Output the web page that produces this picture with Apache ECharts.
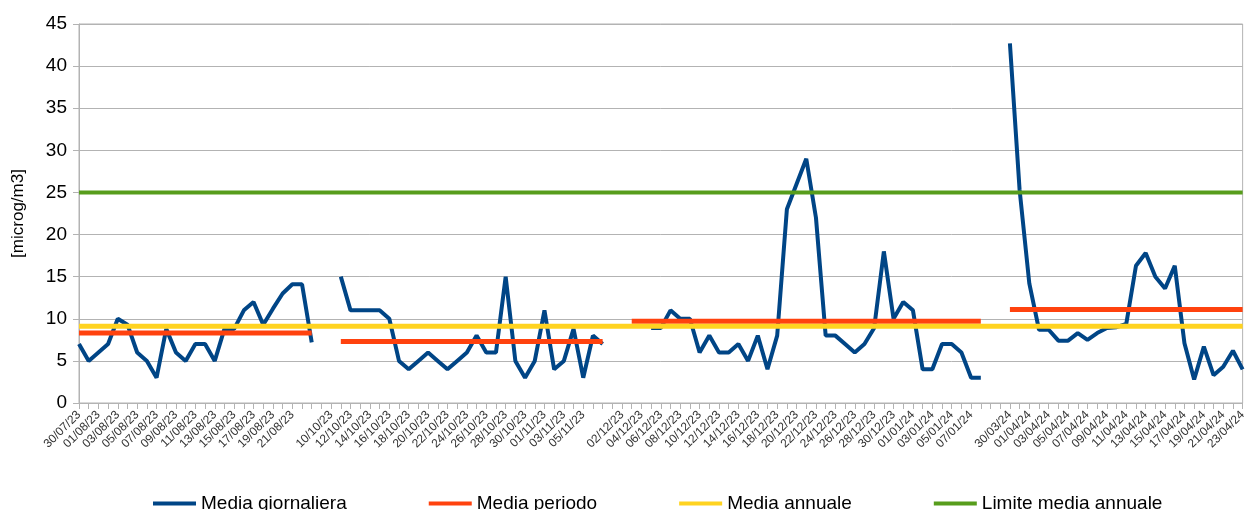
<!DOCTYPE html>
<html>
<head>
<meta charset="utf-8">
<script src="https://cdn.jsdelivr.net/npm/echarts@6/dist/echarts.min.js"></script>
<style>
  html, body { margin: 0; padding: 0; background: #fff; }
  #chart { width: 1249px; height: 510px; }
</style>
</head>
<body>
<div id="chart"></div>
<script>
// date labels per campaign (a blank entry = row without date)
const dates1 = ['30/07/23','31/07/23','01/08/23','02/08/23','03/08/23','04/08/23','05/08/23','06/08/23',
  '07/08/23','08/08/23','09/08/23','10/08/23','11/08/23','12/08/23','13/08/23','14/08/23','15/08/23',
  '16/08/23','17/08/23','18/08/23','19/08/23','20/08/23','21/08/23','22/08/23',''];
const dates2 = ['10/10/23','11/10/23','12/10/23','13/10/23','14/10/23','15/10/23','16/10/23','17/10/23',
  '18/10/23','19/10/23','20/10/23','21/10/23','22/10/23','23/10/23','24/10/23','25/10/23','26/10/23',
  '27/10/23','28/10/23','29/10/23','30/10/23','31/10/23','01/11/23','02/11/23','03/11/23','04/11/23',
  '05/11/23','06/11/23',''];
const dates3 = ['02/12/23','03/12/23','04/12/23','05/12/23','06/12/23','07/12/23','08/12/23','09/12/23',
  '10/12/23','11/12/23','12/12/23','13/12/23','14/12/23','15/12/23','16/12/23','17/12/23','18/12/23',
  '19/12/23','20/12/23','21/12/23','22/12/23','23/12/23','24/12/23','25/12/23','26/12/23','27/12/23',
  '28/12/23','29/12/23','30/12/23','31/12/23','01/01/24','02/01/24','03/01/24','04/01/24','05/01/24',
  '06/01/24','07/01/24','08/01/24'];
const dates4 = ['30/03/24','31/03/24','01/04/24','02/04/24','03/04/24','04/04/24','05/04/24','06/04/24',
  '07/04/24','08/04/24','09/04/24','10/04/24','11/04/24','12/04/24','13/04/24','14/04/24','15/04/24',
  '16/04/24','17/04/24','18/04/24','19/04/24','20/04/24','21/04/24','22/04/24','23/04/24'];

// daily values (microg/m3)
const daily1 = [7, 5, 6, 7, 10, 9.3, 6, 5, 3, 8.8, 6, 5, 7, 7, 5, 8.8, 8.8, 11, 12, 9.3, 11.2, 13, 14.1, 14.1, 7.2];
const daily2 = [null, 15, 11, 11, 11, 11, 10, 5, 4, 5, 6, 5, 4, 5, 6, 8, 6, 6, 15, 5, 3, 5, 11, 4, 5, 8.8, 3, 8, 7];
const daily3 = [null, null, null, 8.9, 8.9, 11, 10, 10, 6, 8, 6, 6, 7, 5, 8, 4, 8, 23, 26, 29, 22, 8, 8, 7, 6, 7,
  8.9, 18, 10, 12, 11, 4, 4, 7, 7, 6, 3, 3];
const daily4 = [42.7, 25.3, 14.2, 8.7, 8.7, 7.4, 7.4, 8.3, 7.5, 8.3, 8.9, 9.0, 9.4, 16.3, 17.8, 15.0, 13.6, 16.3,
  7.1, 2.8, 6.7, 3.3, 4.3, 6.2, 4.0];

// period means and rows they cover
const periodMeans = [8.3, 7.3, 9.7, 11.1];
const annualMean = 9.1;
const annualLimit = 25;

const flat = (v, n) => new Array(n).fill(v);

const categories = [...dates1, '', ...dates2, '', ...dates3, '', '', ...dates4];
const dailyData = [...daily1, null, ...daily2, null, ...daily3, null, null, ...daily4];
const periodData = [
  ...flat(periodMeans[0], 25), null,
  null, ...flat(periodMeans[1], 28), null,
  null, ...flat(periodMeans[2], 37), null, null,
  ...flat(periodMeans[3], 25)
];

const FONT = 'Liberation Sans, Arial, sans-serif';
const chart = echarts.init(document.getElementById('chart'));

chart.setOption({
  animation: false,
  textStyle: { fontFamily: FONT },
  grid: {
    left: 79, right: 6, top: 24, bottom: 107,
    show: true, borderColor: '#b3b3b3', borderWidth: 1
  },
  legend: {
    left: 148, top: 489,
    icon: 'rect', itemWidth: 43, itemHeight: 4, itemGap: 82,
    textStyle: { fontSize: 19, color: '#000', fontFamily: FONT },
    data: ['Media giornaliera', 'Media periodo', 'Media annuale', 'Limite media annuale']
  },
  xAxis: {
    type: 'category',
    data: categories,
    boundaryGap: false,
    axisLine: { lineStyle: { color: '#b3b3b3' } },
    axisTick: { interval: 0, length: 6, lineStyle: { color: '#b3b3b3' } },
    axisLabel: { interval: 1, rotate: 45, fontSize: 12, color: '#333', margin: 10, fontFamily: FONT },
    splitLine: { show: false }
  },
  yAxis: {
    type: 'value',
    min: 0, max: 45, interval: 5,
    name: '[microg/m3]',
    nameLocation: 'middle',
    nameGap: 52,
    nameTextStyle: { fontSize: 17, color: '#000', fontFamily: FONT },
    axisLine: { show: true, lineStyle: { color: '#b3b3b3' } },
    axisTick: { show: true, length: 6, lineStyle: { color: '#b3b3b3' } },
    axisLabel: { fontSize: 19, color: '#000', margin: 12, fontFamily: FONT },
    splitLine: { lineStyle: { color: '#b3b3b3' } }
  },
  series: [
    {
      name: 'Media giornaliera', type: 'line', data: dailyData,
      symbol: 'none', connectNulls: false,
      color: '#004586', lineStyle: { color: '#004586', width: 4 }
    },
    {
      name: 'Media periodo', type: 'line', data: periodData,
      symbol: 'none', connectNulls: false,
      color: '#ff420e', lineStyle: { color: '#ff420e', width: 5 }
    },
    {
      name: 'Media annuale', type: 'line', data: categories.map(() => annualMean),
      symbol: 'none',
      color: '#ffd320', lineStyle: { color: '#ffd320', width: 5 }
    },
    {
      name: 'Limite media annuale', type: 'line', data: categories.map(() => annualLimit),
      symbol: 'none',
      color: '#579d1c', lineStyle: { color: '#579d1c', width: 4 }
    }
  ]
});
</script>
</body>
</html>
